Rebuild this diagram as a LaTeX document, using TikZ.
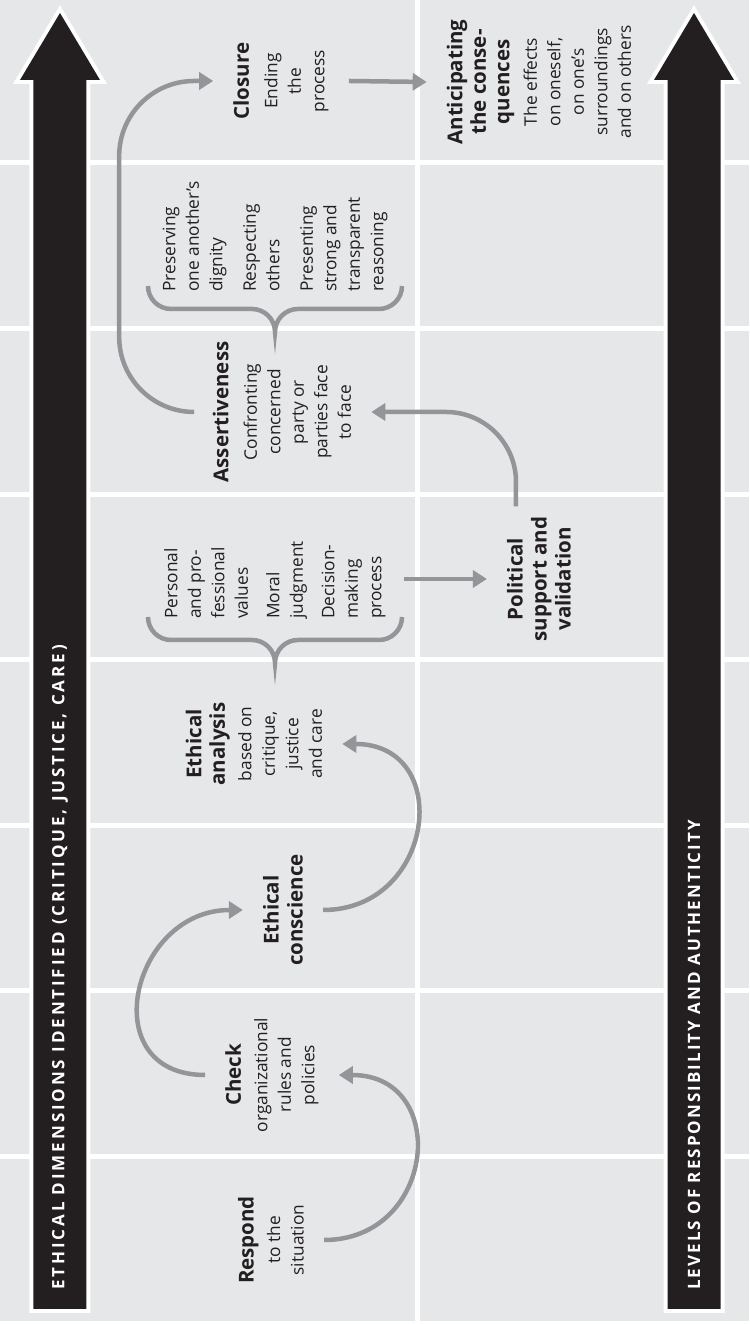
\documentclass[tikz,border=0pt]{standalone}
\usepackage{fontspec}
\setmainfont{Open Sans}
\newfontfamily\bannerfont{Open Sans}[LetterSpace=12]
\newfontfamily\widebannerfont{Open Sans}[LetterSpace=17]
\usetikzlibrary{arrows.meta,calc}

\definecolor{cellgrey}{HTML}{E6E7E8}
\definecolor{flowgrey}{HTML}{939598}
\definecolor{ink}{HTML}{231F20}

\newcommand{\hdfont}{\fontsize{20.5}{24}\selectfont\bfseries}
\newcommand{\bodyfont}{\fontsize{17.3}{23.5}\selectfont}

\tikzset{
  stepnode/.style={align=center, font=\bodyfont, text=ink, inner xsep=10pt, inner ysep=20pt},
  listnode/.style={align=left, font=\bodyfont, text=ink, inner xsep=0pt, inner ysep=18pt, anchor=west},
  flow/.style={draw=flowgrey, line width=4.5pt, -{Triangle[length=14pt,width=17pt]}},
  banner/.style={fill=ink, preaction={draw=white, line width=8pt}},
  bannertext/.style={font=\fontsize{17}{20}\bannerfont\bfseries, text=white, anchor=west, inner sep=0pt},
  bracket/.pic={
    \draw[flowgrey, line width=4.5pt] (46,-127) arc[start angle=270, end angle=180, radius=23]
      -- (23,-23) arc[start angle=0, end angle=90, radius=23]
      arc[start angle=270, end angle=360, radius=23]
      -- (23,104) arc[start angle=180, end angle=90, radius=23];
  }
}

\begin{document}
\begin{tikzpicture}[x=1pt, y=1pt, rotate=90, transform shape]
  \useasboundingbox (0,0) rectangle (1324,749);
  % cells
  \fill[white] (0,0) rectangle (1324,749);
  \fill[cellgrey] (3,0) rectangle (1324,749);
  \foreach \u in {167,333,498,664,829,995,1161}
    \draw[white, line width=5pt] (\u,0) -- (\u,749);
  \draw[white, line width=5pt] (0,331) -- (1324,331);

  % the two long arrows
  \fill[banner] (15,662.5) -- (1244,662.5) -- (1244,649) -- (1311,689)
    -- (1244,729) -- (1244,715.5) -- (15,715.5) -- cycle;
  \fill[banner] (15,28.5) -- (1244,28.5) -- (1244,15) -- (1311,55)
    -- (1244,95) -- (1244,81.5) -- (15,81.5) -- cycle;
  \node[bannertext, font=\fontsize{17}{20}\widebannerfont\bfseries] (dimlabel) at (34,689) {ETHICAL DIMENSIONS IDENTIFIED (CRITIQUE, JUSTICE, CARE)};
  \node[bannertext] (levellabel) at (34,55) {LEVELS OF RESPONSIBILITY AND AUTHENTICITY};

  % steps
  \node[stepnode] (respond) at (84,478) {{\hdfont Respond}\\[3pt]to the\\situation};
  \node[stepnode] (check) at (249,477) {{\hdfont Check}\\[3pt]organizational\\rules and\\policies};
  \node[stepnode, font=\hdfont] (conscience) at (414,466) {Ethical\\conscience};
  \node[stepnode] (analysis) at (580,495) {{\hdfont Ethical}\\{\hdfont analysis}\\[3pt]based on\\critique,\\justice\\and care};
  \node[listnode] (values) at (705,474) {Personal\\and pro-\\fessional\\values\\[8pt]Moral\\judgment\\[8pt]Decision-\\making\\process};
  \node[stepnode, font=\hdfont] (political) at (745,210) {Political\\support and\\validation};
  \node[stepnode] (assert) at (912,467) {{\hdfont Assertiveness}\\[5pt]Confronting\\concerned\\party or\\parties face\\to face};
  \node[listnode] (respect) at (1032,474) {Preserving\\one another’s\\dignity\\[10pt]Respecting\\others\\[10pt]Presenting\\strong and\\transparent\\reasoning};
  \node[stepnode] (closure) at (1243,468) {{\hdfont Closure}\\[5pt]Ending\\the\\process};
  \node[stepnode] (anticipate) at (1242,210) {{\hdfont Anticipating}\\{\hdfont the conse-}\\{\hdfont quences}\\[4pt]The effects\\on oneself,\\on one’s\\surroundings\\and on others};

  % braces
  \pic (valbrace) at (661,474) {bracket};
  \pic (respbrace) at (992,474) {bracket};

  % connectors
  \draw[flow] (respond.south) .. controls +(0,-112) and +(0,-112) .. (check.south);
  \draw[flow] (check.north) .. controls +(0,112) and +(0,112) .. (conscience.north);
  \draw[flow] (conscience.south) .. controls +(0,-112) and +(0,-112) .. (analysis.south);
  \draw[flow] (values.south -| political.north) -- (political.north);
  \draw[flow, rounded corners=70pt] ($(political.east)+(0,23)$) -| (assert.south);
  \draw[flow, rounded corners=75pt] (assert.north) |- ($(closure.north)+(0,94)$) -- (closure.north);
  \draw[flow] (closure.south) -- (anticipate.north);
\end{tikzpicture}
\end{document}
